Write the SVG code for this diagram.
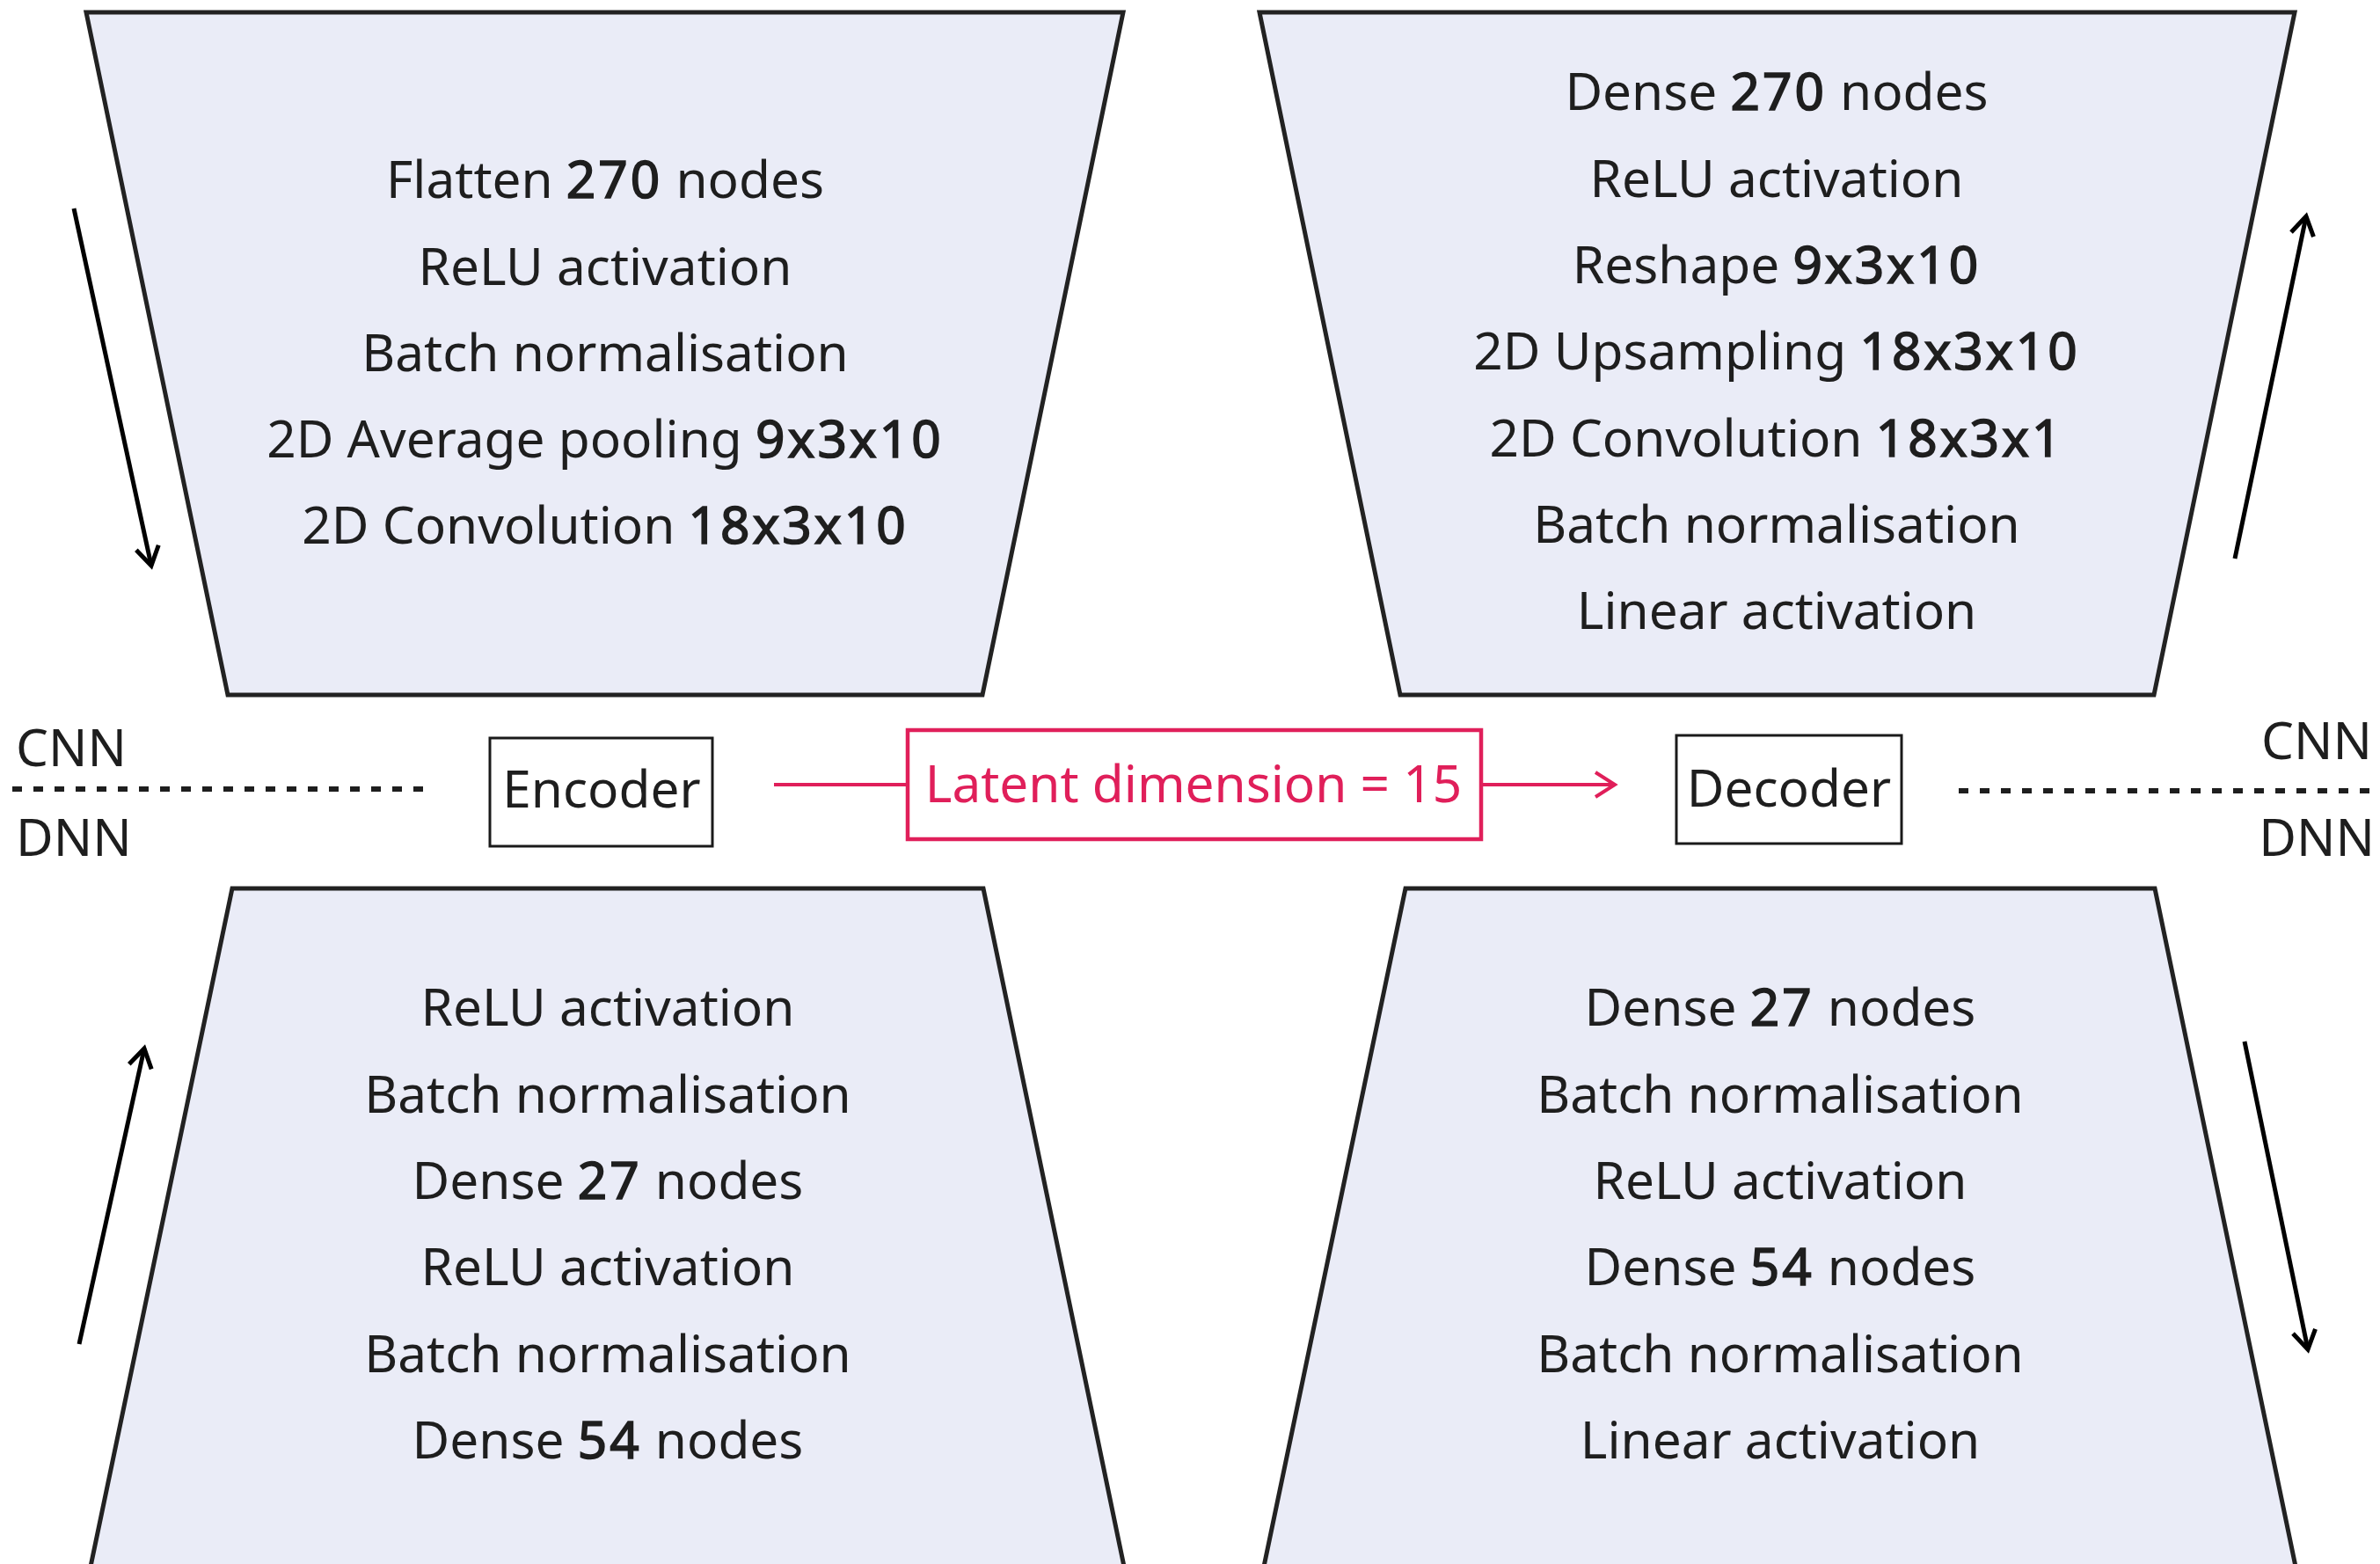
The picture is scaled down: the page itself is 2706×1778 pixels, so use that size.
<svg xmlns="http://www.w3.org/2000/svg" width="2706" height="1778" viewBox="0 0 2706 1778">
  <style>
    .trap { fill: #eaecf7; stroke: #222222; stroke-width: 5; stroke-linejoin: miter; }
    .box { fill: #ffffff; stroke: #1a1a1a; stroke-width: 3; }
    .latent { fill: #ffffff; stroke: #e01f5a; stroke-width: 4.5; }
    .t { font-family: "Noto Sans", "Open Sans", "DejaVu Sans", sans-serif; font-size: 58.5px; fill: #1e1e1e; }
    .mid { text-anchor: middle; }
    .num { stroke: #1e1e1e; stroke-width: 1.6; letter-spacing: 3px; }
    .red { fill: #e01f5a; }
    .flow { stroke: #000000; stroke-width: 5; fill: none; marker-end: url(#openArrow); }
    .sep { stroke: #1e1e1e; stroke-width: 6; stroke-dasharray: 11 13; fill: none; }
    .link { stroke: #e01f5a; stroke-width: 4; fill: none; }
  </style>
  <defs>
    <marker id="openArrow" markerUnits="userSpaceOnUse" markerWidth="40" markerHeight="40" refX="0" refY="0" viewBox="-30 -20 40 40" orient="auto" overflow="visible">
      <path d="M-21,-13 L0,0 L-21,13" fill="none" stroke="#000000" stroke-width="5"/>
    </marker>
    <marker id="redArrow" markerUnits="userSpaceOnUse" markerWidth="40" markerHeight="40" refX="0" refY="0" viewBox="-30 -20 40 40" orient="auto" overflow="visible">
      <path d="M-22,-14 L0,0 L-22,14" fill="none" stroke="#e01f5a" stroke-width="4"/>
    </marker>
  </defs>

  <!-- CNN encoder block -->
  <g id="cnn-encoder">
    <path class="trap" d="M98,14 L1277,14 L1117,790 L259,790 Z"/>
    <text class="t mid" x="688" y="225">Flatten <tspan class="num">270</tspan> nodes</text>
    <text class="t mid" x="688" y="323.5">ReLU activation</text>
    <text class="t mid" x="688" y="422">Batch normalisation</text>
    <text class="t mid" x="688" y="520">2D Average pooling <tspan class="num">9x3x10</tspan></text>
    <text class="t mid" x="688" y="618">2D Convolution <tspan class="num">18x3x10</tspan></text>
  </g>

  <!-- CNN decoder block -->
  <g id="cnn-decoder">
    <path class="trap" d="M1432,14 L2609,14 L2449,790 L1592,790 Z"/>
    <text class="t mid" x="2020" y="125">Dense <tspan class="num">270</tspan> nodes</text>
    <text class="t mid" x="2020" y="223.5">ReLU activation</text>
    <text class="t mid" x="2020" y="322">Reshape <tspan class="num">9x3x10</tspan></text>
    <text class="t mid" x="2020" y="420">2D Upsampling <tspan class="num">18x3x10</tspan></text>
    <text class="t mid" x="2020" y="519">2D Convolution <tspan class="num">18x3x1</tspan></text>
    <text class="t mid" x="2020" y="617">Batch normalisation</text>
    <text class="t mid" x="2020" y="715">Linear activation</text>
  </g>

  <!-- DNN encoder block -->
  <g id="dnn-encoder">
    <path class="trap" d="M264,1010 L1118,1010 L1282,1800 L99,1800 Z"/>
    <text class="t mid" x="691" y="1166">ReLU activation</text>
    <text class="t mid" x="691" y="1264.5">Batch normalisation</text>
    <text class="t mid" x="691" y="1363">Dense <tspan class="num">27</tspan> nodes</text>
    <text class="t mid" x="691" y="1461">ReLU activation</text>
    <text class="t mid" x="691" y="1560">Batch normalisation</text>
    <text class="t mid" x="691" y="1658">Dense <tspan class="num">54</tspan> nodes</text>
  </g>

  <!-- DNN decoder block -->
  <g id="dnn-decoder">
    <path class="trap" d="M1598,1010 L2450,1010 L2614,1800 L1433,1800 Z"/>
    <text class="t mid" x="2024" y="1166">Dense <tspan class="num">27</tspan> nodes</text>
    <text class="t mid" x="2024" y="1264.5">Batch normalisation</text>
    <text class="t mid" x="2024" y="1363">ReLU activation</text>
    <text class="t mid" x="2024" y="1461">Dense <tspan class="num">54</tspan> nodes</text>
    <text class="t mid" x="2024" y="1560">Batch normalisation</text>
    <text class="t mid" x="2024" y="1658">Linear activation</text>
  </g>

  <!-- Encoder label -->
  <g id="encoder">
    <rect class="box" x="557" y="839" width="253" height="123"/>
    <text class="t mid" x="684" y="918">Encoder</text>
  </g>

  <!-- Decoder label -->
  <g id="decoder">
    <rect class="box" x="1906" y="836" width="256" height="123"/>
    <text class="t mid" x="2034" y="917">Decoder</text>
  </g>

  <!-- Latent space -->
  <g id="latent">
    <rect class="latent" x="1032" y="830" width="652" height="124"/>
    <text class="t mid red" x="1357" y="912">Latent dimension = 15</text>
  </g>

  <!-- CNN / DNN split markers -->
  <g id="split-left">
    <text class="t" x="18" y="871">CNN</text>
    <line class="sep" x1="14" y1="897" x2="491" y2="897"/>
    <text class="t" x="18" y="973">DNN</text>
  </g>
  <g id="split-right">
    <text class="t" x="2697" y="863" text-anchor="end">CNN</text>
    <line class="sep" x1="2227" y1="899" x2="2706" y2="899"/>
    <text class="t" x="2700" y="973" text-anchor="end">DNN</text>
  </g>

  <!-- Connectors -->
  <g id="connectors">
    <line class="link" x1="880" y1="892" x2="1032" y2="892"/>
    <line class="link" x1="1684" y1="892" x2="1836" y2="892" marker-end="url(#redArrow)"/>
    <line class="flow" x1="84" y1="237" x2="172" y2="643"/>
    <line class="flow" x1="2541" y1="635" x2="2622" y2="246"/>
    <line class="flow" x1="90" y1="1528" x2="164" y2="1192"/>
    <line class="flow" x1="2552" y1="1184" x2="2624" y2="1534"/>
  </g>
</svg>
